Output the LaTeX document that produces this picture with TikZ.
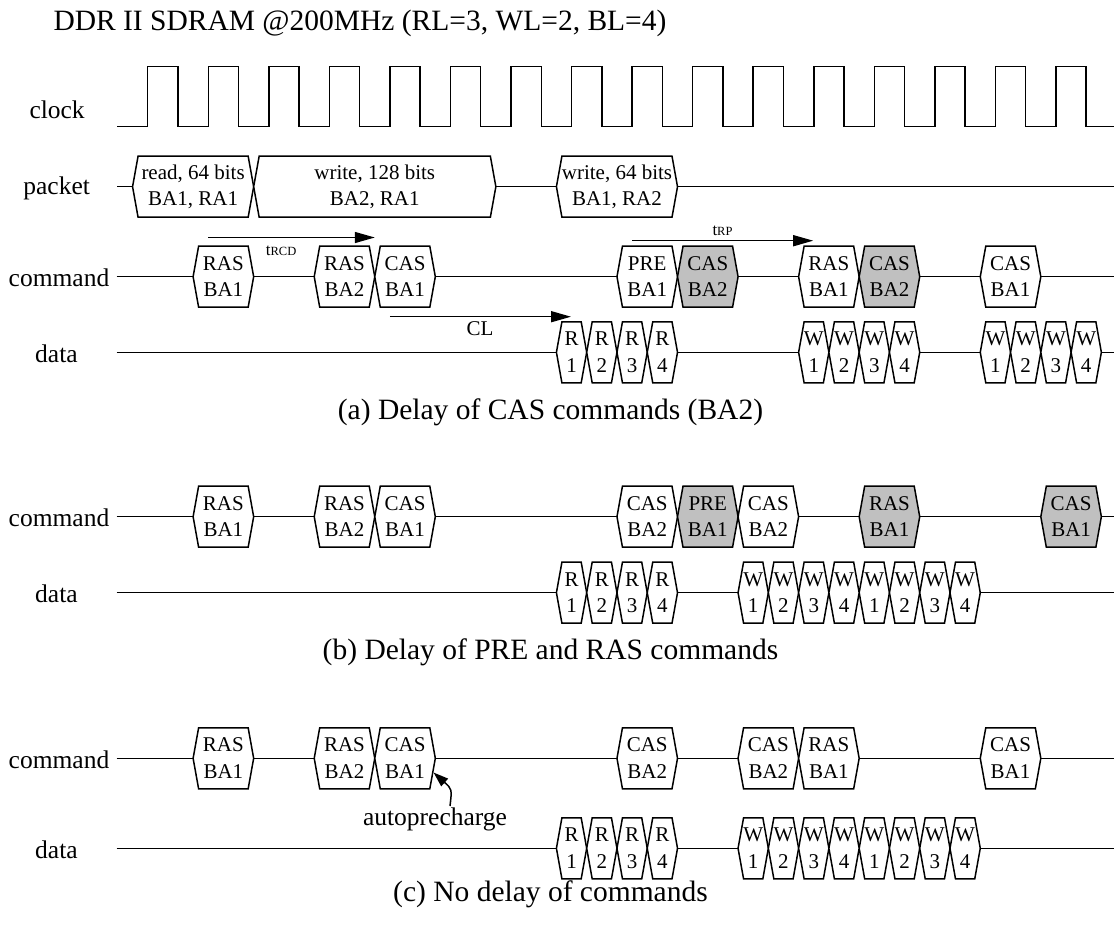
\documentclass[tikz,border=0pt]{standalone}
\usepackage{fontspec}
\setmainfont{Liberation Serif}
\usetikzlibrary{arrows.meta}
\definecolor{shade}{RGB}{192,192,192}
\tikzset{
  sig/.style={line width=1.5pt, line join=miter},
  hextext/.style={inner sep=0pt, align=center, font=\fontsize{21}{26.5}\selectfont},
  lbl/.style={inner sep=0pt, font=\fontsize{25.5}{30}\selectfont},
  captext/.style={inner sep=0pt, font=\fontsize{29.5}{34}\selectfont},
  tarrow/.style={line width=1.5pt, -{Triangle[length=20pt,width=11pt]}},
  bigt/.style={inner sep=0pt},
}
% #1 name, #2 start cycle, #3 end cycle, #4 centre y, #5 text, #6 fill
\newcommand\hexsig[6]{%
  \pgfmathsetmacro\hxa{147.7+60.55*(#2)}%
  \pgfmathsetmacro\hxb{147.7+60.55*(#3)}%
  \draw[sig, fill=#6] (\hxa,#4) -- (\hxa+5.5,#4-30.5) -- (\hxb-5.5,#4-30.5) -- (\hxb,#4)
     -- (\hxb-5.5,#4+30.5) -- (\hxa+5.5,#4+30.5) -- cycle;
  \node[hextext] (#1) at ({(\hxa+\hxb)/2},#4) {#5};
}
\begin{document}
\begin{tikzpicture}[x=1pt,y=-1pt]
\useasboundingbox (0,0) rectangle (1114,926);

% title
\node[captext, anchor=base west] (title) at (53.3,30.7) {DDR II SDRAM @200MHz (RL=3, WL=2, BL=4)};

% clock
\node[lbl, anchor=base west] (lclock) at (29.3,118.3) {clock};
\draw[sig] (117,126.7) foreach \k in {0,...,15} {
  -- ({147.7+60.55*\k},126.7) -- ({147.7+60.55*\k},66.7)
  -- ({147.7+60.55*\k+30.27},66.7) -- ({147.7+60.55*\k+30.27},126.7) } -- (1114,126.7);

% packet
\node[lbl, anchor=base west] (lpacket) at (23.2,194) {packet};
\draw[sig] (117,186.7) -- (1114,186.7);
\hexsig{pk1}{-0.25}{1.75}{186.7}{read, 64 bits\\BA1, RA1}{white}
\hexsig{pk2}{1.75}{5.75}{186.7}{write, 128 bits\\BA2, RA1}{white}
\hexsig{pk3}{6.75}{8.75}{186.7}{write, 64 bits\\BA1, RA2}{white}

% ---------- (a)
\node[lbl, anchor=base east] (lcmda) at (109.5,286.7) {command};
\draw[sig] (116.7,276.7) -- (1114,276.7);
\hexsig{a1}{0.75}{1.75}{276.7}{RAS\\BA1}{white}
\hexsig{a2}{2.75}{3.75}{276.7}{RAS\\BA2}{white}
\hexsig{a3}{3.75}{4.75}{276.7}{CAS\\BA1}{white}
\hexsig{a4}{7.75}{8.75}{276.7}{PRE\\BA1}{white}
\hexsig{a5}{8.75}{9.75}{276.7}{CAS\\BA2}{shade}
\hexsig{a6}{10.75}{11.75}{276.7}{RAS\\BA1}{white}
\hexsig{a7}{11.75}{12.75}{276.7}{CAS\\BA2}{shade}
\hexsig{a8}{13.75}{14.75}{276.7}{CAS\\BA1}{white}

\coordinate (rcdA) at (208.25,237.5);
\coordinate (rcdB) at (374.76,237.5);
\draw[tarrow] (rcdA) -- (rcdB);
\node[bigt, anchor=base west] (trcd) at (265.7,255) {\fontsize{17}{17}\selectfont t\fontsize{12.5}{12.5}\selectfont RCD};

\coordinate (rpA) at (632.1,240.7);
\coordinate (rpB) at (813.2,240.7);
\draw[tarrow] (rpA) -- (rpB);
\node[bigt, anchor=base west] (trp) at (712.3,235) {\fontsize{17}{17}\selectfont t\fontsize{12.5}{12.5}\selectfont RP};

\coordinate (clA) at (389.9,316.7);
\coordinate (clB) at (571.0,316.7);
\draw[tarrow] (clA) -- (clB);
\node[anchor=base, inner sep=0pt, font=\fontsize{21}{21}\selectfont] (cl) at (480,335.7) {CL};

\node[lbl, anchor=base west] (ldataa) at (35,362.3) {data};
\draw[sig] (116.7,352.3) -- (1114,352.3);
\foreach \i in {1,...,4} {
  \hexsig{ar\i}{6.75+0.5*(\i-1)}{7.25+0.5*(\i-1)}{352.3}{R\\\i}{white}
  \hexsig{aw\i}{10.75+0.5*(\i-1)}{11.25+0.5*(\i-1)}{352.3}{W\\\i}{white}
  \hexsig{av\i}{13.75+0.5*(\i-1)}{14.25+0.5*(\i-1)}{352.3}{W\\\i}{white}
}
\node[captext, anchor=base] (capa) at (550.5,419.5) {(a) Delay of CAS commands (BA2)};

% ---------- (b)
\node[lbl, anchor=base east] (lcmdb) at (109.5,526.7) {command};
\draw[sig] (116.7,516.7) -- (1114,516.7);
\hexsig{b1}{0.75}{1.75}{516.7}{RAS\\BA1}{white}
\hexsig{b2}{2.75}{3.75}{516.7}{RAS\\BA2}{white}
\hexsig{b3}{3.75}{4.75}{516.7}{CAS\\BA1}{white}
\hexsig{b4}{7.75}{8.75}{516.7}{CAS\\BA2}{white}
\hexsig{b5}{8.75}{9.75}{516.7}{PRE\\BA1}{shade}
\hexsig{b6}{9.75}{10.75}{516.7}{CAS\\BA2}{white}
\hexsig{b7}{11.75}{12.75}{516.7}{RAS\\BA1}{shade}
\hexsig{b8}{14.75}{15.75}{516.7}{CAS\\BA1}{shade}

\node[lbl, anchor=base west] (ldatab) at (35,602.7) {data};
\draw[sig] (116.7,592.7) -- (1114,592.7);
\foreach \i in {1,...,4} {
  \hexsig{br\i}{6.75+0.5*(\i-1)}{7.25+0.5*(\i-1)}{592.7}{R\\\i}{white}
  \hexsig{bw\i}{9.75+0.5*(\i-1)}{10.25+0.5*(\i-1)}{592.7}{W\\\i}{white}
  \hexsig{bv\i}{11.75+0.5*(\i-1)}{12.25+0.5*(\i-1)}{592.7}{W\\\i}{white}
}
\node[captext, anchor=base] (capb) at (550.5,659.5) {(b) Delay of PRE and RAS commands};

% ---------- (c)
\node[lbl, anchor=base east] (lcmdc) at (109.5,768.3) {command};
\draw[sig] (116.7,758.3) -- (1114,758.3);
\hexsig{c1}{0.75}{1.75}{758.3}{RAS\\BA1}{white}
\hexsig{c2}{2.75}{3.75}{758.3}{RAS\\BA2}{white}
\hexsig{c3}{3.75}{4.75}{758.3}{CAS\\BA1}{white}
\hexsig{c4}{7.75}{8.75}{758.3}{CAS\\BA2}{white}
\hexsig{c5}{9.75}{10.75}{758.3}{CAS\\BA2}{white}
\hexsig{c6}{10.75}{11.75}{758.3}{RAS\\BA1}{white}
\hexsig{c7}{13.75}{14.75}{758.3}{CAS\\BA1}{white}

\node[lbl, anchor=base] (ap) at (435,825) {autoprecharge};
\coordinate (apS) at (450,806);
\coordinate (apT) at (433.5,772.5);
\draw[line width=1.5pt, -{Triangle[length=15pt,width=10pt]}] (apS) .. controls (452,789) .. (apT);

\node[lbl, anchor=base west] (ldatac) at (35,858.3) {data};
\draw[sig] (116.7,848.3) -- (1114,848.3);
\foreach \i in {1,...,4} {
  \hexsig{cr\i}{6.75+0.5*(\i-1)}{7.25+0.5*(\i-1)}{848.3}{R\\\i}{white}
  \hexsig{cw\i}{9.75+0.5*(\i-1)}{10.25+0.5*(\i-1)}{848.3}{W\\\i}{white}
  \hexsig{cv\i}{11.75+0.5*(\i-1)}{12.25+0.5*(\i-1)}{848.3}{W\\\i}{white}
}
\node[captext, anchor=base] (capc) at (550.5,901) {(c) No delay of commands};
\end{tikzpicture}
\end{document}
